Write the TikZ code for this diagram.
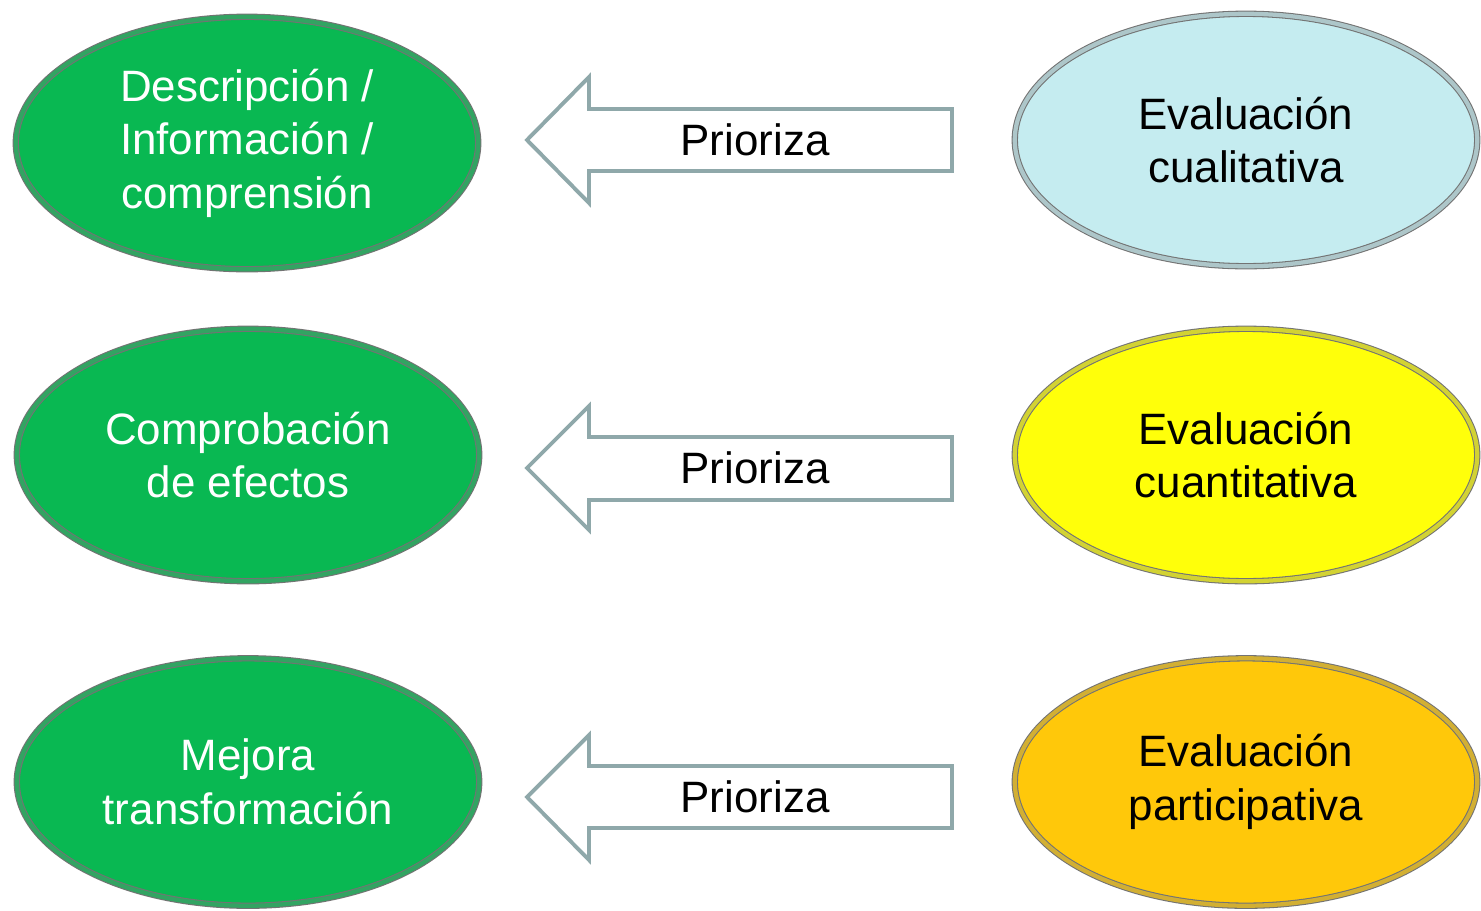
\documentclass[tikz,border=0pt]{standalone}
\usepackage{fontspec}
\setmainfont{Liberation Sans}
\usetikzlibrary{shapes.geometric}
\definecolor{verde}{RGB}{9,184,82}
\definecolor{celeste}{RGB}{197,236,240}
\definecolor{amarillo}{RGB}{255,255,10}
\definecolor{dorado}{RGB}{255,200,10}
\definecolor{flecha}{RGB}{143,168,170}
\tikzset{
  ovalo/.style={ellipse, fill=#1, draw=black!55, line width=0.6pt,
    double=#1!65!gray, double distance=2.4pt,
    minimum width=9.25cm, minimum height=5.05cm, align=center,
    font=\fontsize{25}{30.5}\selectfont},
  meta/.style={ovalo=verde, text=white},
  tipo/.style={ovalo=#1, text=black},
  prioriza/.style={draw=flecha, line width=2.2pt, line join=miter, fill=white},
  rotulo/.style={font=\fontsize{25}{30}\selectfont}
}
\begin{document}
\begin{tikzpicture}[x=0.02cm,y=-0.02cm]
            \useasboundingbox (0,0) rectangle (1481,910);
            % ellipses on the left
            \node [meta] (desc) at(247,143) {Descripci\'on /\\Informaci\'on /\\comprensi\'on};
            \node [meta] (comp) at(248,455) {Comprobaci\'on\\de efectos};
            \node [meta, minimum height=4.95cm] (mejo) at(248,782) {Mejora\\transformaci\'on};
            % ellipses on the right
            \node [tipo=celeste] (cual) at(1246,140) {Evaluaci\'on\\cualitativa};
            \node [tipo=amarillo] (cuan) at(1246,455) {Evaluaci\'on\\cuantitativa};
            \node [tipo=dorado, minimum height=4.95cm] (part) at(1246,782) {Evaluaci\'on\\participativa};
            % arrows
            \draw [prioriza] (527,140)--(589,77)--(589,109)--(952,109)--(952,171)--(589,171)--(589,203)--cycle;
            \draw [prioriza] (527,468)--(589,406)--(589,437)--(952,437)--(952,500)--(589,500)--(589,530)--cycle;
            \draw [prioriza] (527,797)--(589,735)--(589,766)--(952,766)--(952,828)--(589,828)--(589,860)--cycle;
            \node [rotulo] (p1) at(755,140) {Prioriza};
            \node [rotulo] (p2) at(755,468) {Prioriza};
            \node [rotulo] (p3) at(755,797) {Prioriza};
        \end{tikzpicture}
\end{document}
